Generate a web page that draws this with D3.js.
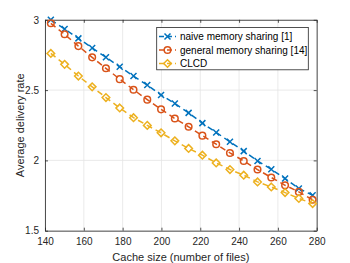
<!DOCTYPE html>
<html>
<head>
<meta charset="utf-8">
<script src="https://cdn.jsdelivr.net/npm/d3@7"></script>
<style>
  body { margin: 0; background: #fff; }
  svg { font-family: "Liberation Sans", Arial, sans-serif; }
</style>
</head>
<body>
<svg id="chart" width="350" height="263"></svg>
<script>
// cache sizes (number of files)
var cacheSize = [143, 150.1, 157.2, 164.3, 171.4, 178.5, 185.6, 192.7, 199.8, 206.9,
                 214, 221.1, 228.2, 235.3, 242.4, 249.5, 256.6, 263.7, 270.8, 277.9];

var naive = [3.0, 2.934, 2.868, 2.80, 2.733, 2.666, 2.60, 2.536, 2.465, 2.405,
             2.338, 2.265, 2.199, 2.132, 2.066, 1.996, 1.937, 1.871, 1.80, 1.752];
var general = [2.975, 2.897, 2.813, 2.733, 2.655, 2.578, 2.503, 2.432, 2.363, 2.298,
               2.239, 2.176, 2.115, 2.053, 1.996, 1.935, 1.878, 1.823, 1.776, 1.72];
var clcd = [2.761, 2.683, 2.60, 2.523, 2.447, 2.373, 2.304, 2.249, 2.196, 2.139,
            2.085, 2.037, 1.982, 1.935, 1.895, 1.847, 1.811, 1.771, 1.729, 1.693];

var xTicks = [140, 160, 180, 200, 220, 240, 260, 280];
var yTicks = [1.5, 2, 2.5, 3];

var seriesNames = ['naive memory sharing [1]', 'general memory sharing [14]', 'CLCD'];
var seriesColors = ['#0072BD', '#D95319', '#EDB120'];
var seriesMarkers = ['cross', 'circle', 'diamond'];

// plot box (window.top is taken, so no plain "top" here)
var pLeft = 45, pRight = 316.7, pTop = 19.8, pBottom = 230.7;

var svg = d3.select('#chart');

var x = d3.scaleLinear().domain([140, 280]).range([pLeft, pRight]);
var y = d3.scaleLinear().domain([1.5, 3]).range([pBottom, pTop]);

// grid
var grid = svg.append('g').attr('stroke', '#e5e5e5').attr('stroke-width', 0.8);
xTicks.forEach(function(t) {
    grid.append('line').attr('x1', x(t)).attr('x2', x(t)).attr('y1', pTop).attr('y2', pBottom);
});
yTicks.forEach(function(t) {
    grid.append('line').attr('x1', pLeft).attr('x2', pRight).attr('y1', y(t)).attr('y2', y(t));
});

// axes, ticks inside like matlab
var xAxis = d3.axisBottom(x).tickValues(xTicks).tickSizeInner(-3).tickSizeOuter(0).tickPadding(7);
var yAxis = d3.axisLeft(y).tickValues(yTicks).tickSizeInner(-3).tickSizeOuter(0).tickPadding(6)
    .tickFormat(d3.format('~g'));

svg.append('g').attr('transform', 'translate(0,' + pBottom + ')').call(xAxis);
svg.append('g').attr('transform', 'translate(' + pLeft + ',0)').call(yAxis);

// top / right ticks
var topAxis = d3.axisTop(x).tickValues(xTicks).tickSizeInner(-3).tickSizeOuter(0).tickFormat('');
var rightAxis = d3.axisRight(y).tickValues(yTicks).tickSizeInner(-3).tickSizeOuter(0).tickFormat('');
svg.append('g').attr('transform', 'translate(0,' + pTop + ')').call(topAxis);
svg.append('g').attr('transform', 'translate(' + pRight + ',0)').call(rightAxis);

svg.selectAll('.domain').attr('stroke', '#262626').attr('stroke-width', 0.8);
svg.selectAll('.tick line').attr('stroke', '#262626').attr('stroke-width', 0.8);
svg.selectAll('.tick text').attr('fill', '#262626').style('font-size', '10px')
    .style('font-family', '"Liberation Sans", Arial, sans-serif');

// axis labels
svg.append('text')
    .attr('x', (pLeft + pRight) / 2).attr('y', 260.5)
    .attr('text-anchor', 'middle').attr('fill', '#262626').style('font-size', '11px')
    .text('Cache size (number of files)');
svg.append('text')
    .attr('transform', 'translate(23.5,' + (pTop + pBottom) / 2 + ') rotate(-90)')
    .attr('text-anchor', 'middle').attr('fill', '#262626').style('font-size', '11px')
    .text('Average delivery rate');

function drawMarker(g, kind, cx, cy, color) {
    if (kind == 'cross') {
        var s = 3;
        g.append('path')
            .attr('d', 'M' + (cx - s) + ',' + (cy - s) + 'L' + (cx + s) + ',' + (cy + s) +
                       'M' + (cx - s) + ',' + (cy + s) + 'L' + (cx + s) + ',' + (cy - s))
            .attr('stroke', color).attr('stroke-width', 1.5).attr('fill', 'none');
    } else if (kind == 'circle') {
        g.append('circle').attr('cx', cx).attr('cy', cy).attr('r', 3.3)
            .attr('stroke', color).attr('stroke-width', 1.5).attr('fill', 'none');
    } else {
        var d = 3.8;
        g.append('path')
            .attr('d', 'M' + cx + ',' + (cy - d) + 'L' + (cx + d) + ',' + cy +
                       'L' + cx + ',' + (cy + d) + 'L' + (cx - d) + ',' + cy + 'Z')
            .attr('stroke', color).attr('stroke-width', 1.5).attr('fill', 'none');
    }
}

var allSeries = [naive, general, clcd];
var line = d3.line()
    .x(function(d, i) { return x(cacheSize[i]); })
    .y(function(d) { return y(d); });

allSeries.forEach(function(vals, k) {
    var g = svg.append('g');
    g.append('path').datum(vals)
        .attr('d', line)
        .attr('fill', 'none')
        .attr('stroke', seriesColors[k])
        .attr('stroke-width', 1.5)
        .attr('stroke-dasharray', '6,4');
    vals.forEach(function(v, i) {
        drawMarker(g, seriesMarkers[k], x(cacheSize[i]), y(v), seriesColors[k]);
    });
});

// legend
var lg = svg.append('g');
lg.append('rect')
    .attr('x', 156.7).attr('y', 27.5).attr('width', 151.6).attr('height', 42.3)
    .attr('fill', '#fff').attr('stroke', '#262626').attr('stroke-width', 0.8);
seriesNames.forEach(function(name, k) {
    var ly = 36.5 + k * 13.5;
    lg.append('line').attr('x1', 159).attr('x2', 176).attr('y1', ly).attr('y2', ly)
        .attr('stroke', seriesColors[k]).attr('stroke-width', 1.5).attr('stroke-dasharray', '5,3');
    drawMarker(lg, seriesMarkers[k], 167.5, ly, seriesColors[k]);
    lg.append('text').attr('x', 180).attr('y', ly + 3.6)
        .attr('fill', '#000').style('font-size', '10px').text(name);
});
</script>
</body>
</html>
